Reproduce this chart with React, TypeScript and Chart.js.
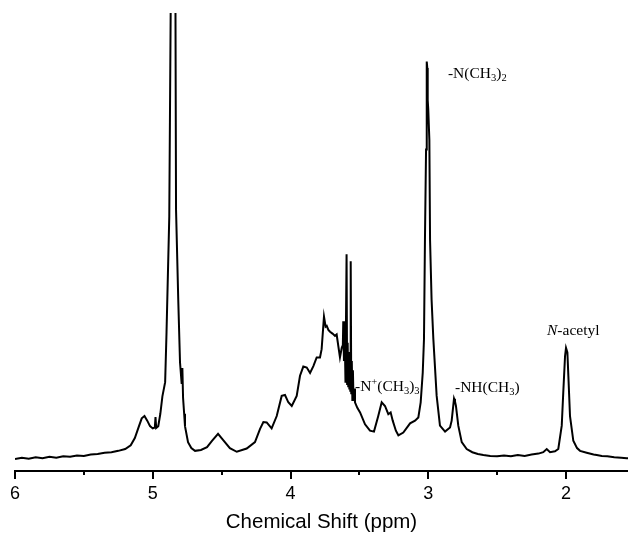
import React, { useEffect, useRef } from "react";
import { Chart, registerables } from "chart.js";

Chart.register(...registerables);

const SHIFT_PPM = [
  6.0, 5.95, 5.9, 5.85, 5.8, 5.75, 5.7, 5.65, 5.6, 5.55, 5.5, 5.45, 5.4, 5.35, 5.3, 5.25, 5.2,
  5.16, 5.13, 5.1, 5.08, 5.06, 5.04, 5.02, 5.0, 4.985, 4.98, 4.975, 4.96, 4.945, 4.93, 4.91, 4.9,
  4.88, 4.87, 4.862, 4.852, 4.843, 4.835, 4.831, 4.815, 4.802, 4.79, 4.785, 4.78, 4.772, 4.766,
  4.744, 4.72, 4.693, 4.65, 4.606, 4.57, 4.526, 4.49, 4.44, 4.39, 4.318, 4.258, 4.221, 4.197,
  4.173, 4.137, 4.1, 4.064, 4.04, 4.016, 3.991, 3.955, 3.931, 3.907, 3.882, 3.858, 3.834, 3.81,
  3.786, 3.774, 3.757, 3.745, 3.737, 3.725, 3.713, 3.695, 3.677, 3.665, 3.641, 3.628, 3.62,
  3.617, 3.612, 3.605, 3.601, 3.598, 3.593, 3.589, 3.585, 3.581, 3.577, 3.573, 3.57, 3.566, 3.563,
  3.559, 3.555, 3.551, 3.547, 3.543, 3.538, 3.532, 3.515, 3.495, 3.459, 3.423, 3.394, 3.363,
  3.338, 3.314, 3.29, 3.273, 3.258, 3.235, 3.217, 3.181, 3.132, 3.096, 3.072, 3.055, 3.04,
  3.031, 3.024, 3.016, 3.011, 3.007, 3.004, 3.0, 2.992, 2.987, 2.976, 2.963, 2.939, 2.915,
  2.878, 2.842, 2.83, 2.813, 2.806, 2.799, 2.782, 2.757, 2.721, 2.68, 2.64, 2.6, 2.55, 2.5,
  2.45, 2.4, 2.35, 2.3, 2.25, 2.2, 2.165, 2.14, 2.116, 2.08, 2.056, 2.031, 2.02, 2.007, 2.0,
  1.99, 1.983, 1.971, 1.947, 1.92, 1.898, 1.85, 1.8, 1.777, 1.74, 1.7, 1.65, 1.6, 1.559, 1.55,
];

// Relative intensity at each shift (0 = axis, 100 = top of the plot)
const INTENSITY = [
  2.6, 2.9, 2.7, 3.0, 2.8, 3.1, 2.9, 3.2, 3.1, 3.4, 3.3, 3.6, 3.7, 4.0, 4.1, 4.4, 4.8,
  5.6, 7.2, 9.8, 11.5, 12.0, 11.0, 9.8, 9.3, 9.5, 11.8, 9.4, 9.8, 12.5, 16.3, 19.4, 30.3,
  55.6, 100, 150, 190, 150, 100, 57.1, 37.5, 23.7, 19.0, 22.5, 16.0, 12.5, 9.8,
  6.3, 5.0, 4.4, 4.6, 5.2, 6.6, 8.1, 6.8, 5.0, 4.2, 4.9, 6.3, 9.2, 10.7,
  10.6, 9.3, 12.0, 16.4, 16.6, 15.0, 14.2, 16.4, 20.8, 22.8, 22.6, 21.4, 22.9, 24.8,
  24.8, 26.6, 33.7, 31.5, 31.7, 30.8, 30.4, 30.0, 29.5, 29.8, 24.8, 26.9, 27.5,
  32.7, 24.0, 27.0, 19.5, 30.0, 47.3, 19.0, 28.0, 18.5, 26.0, 18.0, 25.0, 17.5, 45.8,
  17.0, 24.0, 15.5, 22.0, 16.0, 18.0, 15.0, 13.8, 12.8, 10.2, 8.8, 8.6, 12.0,
  15.0, 14.2, 12.4, 12.8, 11.0, 8.8, 7.8, 8.4, 10.4, 11.0, 11.7, 15.0, 21.5,
  28.8, 50.5, 70.2, 89.4, 88.0, 81.0, 79.0, 72.3, 50.5, 37.5, 28.8, 16.4, 9.9,
  8.6, 9.5, 11.0, 15.8, 15.2, 14.2, 9.9, 6.3, 4.8, 4.1, 3.7, 3.5, 3.3, 3.2,
  3.4, 3.2, 3.5, 3.3, 3.6, 3.8, 4.1, 4.8, 4.1, 4.3, 4.8, 9.9, 17.1, 25.1, 26.9,
  25.9, 20.8, 12.0, 6.6, 5.0, 4.4, 4.0, 3.6, 3.5, 3.3, 3.2, 3.0, 2.9, 2.8, 2.8,
];

const MAJOR_TICKS = [6, 5, 4, 3, 2];
const MINOR_TICKS = [5.5, 4.5, 3.5, 2.5];
const X_TITLE = "Chemical Shift (ppm)";

type Part = [string, "n" | "sub" | "sup" | "i"];
// Peak assignments: text runs, and the anchor (shift, intensity) of the text's left baseline
const PEAK_TEXTS: Part[][] = [
  [["-N(CH", "n"], ["3", "sub"], [")", "n"], ["2", "sub"]],
  [["-N", "n"], ["+", "sup"], ["(CH", "n"], ["3", "sub"], [")", "n"], ["3", "sub"]],
  [["-NH(CH", "n"], ["3", "sub"], [")", "n"]],
  [["N", "i"], ["-acetyl", "n"]],
];
const PEAK_TEXT_PPM = [2.857, 3.532, 2.806, 2.138];
const PEAK_TEXT_LEVEL = [85.8, 17.4, 17.2, 29.8];

const overlay = {
  id: "overlay",
  afterDraw(chart: any) {
    const { ctx, chartArea, scales } = chart;
    const x = scales.x;
    const y = scales.y;
    ctx.save();
    ctx.strokeStyle = "#000";
    ctx.lineWidth = 2;
    const b = chartArea.bottom;
    const tick = (v: number, len: number) => {
      const px = Math.round(x.getPixelForValue(v));
      ctx.beginPath();
      ctx.moveTo(px, b);
      ctx.lineTo(px, b + len);
      ctx.stroke();
    };
    MAJOR_TICKS.forEach((v) => tick(v, 8));
    MINOR_TICKS.forEach((v) => tick(v, 4));

    ctx.fillStyle = "#000";
    ctx.textBaseline = "alphabetic";
    ctx.textAlign = "left";
    PEAK_TEXTS.forEach((parts, i) => {
      let px = x.getPixelForValue(PEAK_TEXT_PPM[i]);
      const py = y.getPixelForValue(PEAK_TEXT_LEVEL[i]);
      parts.forEach(([t, k]) => {
        const small = k === "sub" || k === "sup";
        const size = small ? 10.5 : 15.5;
        ctx.font = `${k === "i" ? "italic " : ""}${size}px "Liberation Serif"`;
        const dy = k === "sub" ? 3 : k === "sup" ? -6 : 0;
        ctx.fillText(t, px, py + dy);
        px += ctx.measureText(t).width;
      });
    });
    ctx.restore();
  },
};

export default function App() {
  const ref = useRef<HTMLCanvasElement | null>(null);
  useEffect(() => {
    if (!ref.current) return;
    const points = SHIFT_PPM.map((p, i) => ({ x: p, y: INTENSITY[i] }));
    const chart = new Chart(ref.current, {
      type: "line",
      data: {
        datasets: [
          {
            data: points,
            borderColor: "#000",
            borderWidth: 2,
            pointRadius: 0,
            tension: 0,
            fill: false,
          },
        ],
      },
      options: {
        animation: false,
        responsive: false,
        maintainAspectRatio: false,
        events: [],
        layout: { padding: { left: 15, right: 0, top: 13, bottom: 3 } },
        plugins: { legend: { display: false }, tooltip: { enabled: false } },
        scales: {
          x: {
            type: "linear",
            reverse: true,
            min: 1.55,
            max: 6,
            afterBuildTicks: (s: any) => {
              s.ticks = MAJOR_TICKS.map((v) => ({ value: v }));
            },
            afterFit: (s: any) => {
              s.height = 64;
              s.paddingLeft = 0;
              s.paddingRight = 0;
            },
            grid: { display: false, drawTicks: false },
            border: { display: true, color: "#000", width: 2 },
            ticks: {
              padding: 12,
              color: "#000",
              font: { family: "Liberation Sans", size: 18 },
              maxRotation: 0,
              callback: (v: any) => String(v),
            },
            title: {
              display: true,
              text: X_TITLE,
              color: "#000",
              font: { family: "Liberation Sans", size: 20.5 },
              padding: { top: 6, bottom: 0 },
            },
          },
          y: { display: false, min: 0, max: 100 },
        },
      },
      plugins: [overlay],
    });
    return () => chart.destroy();
  }, []);
  return (
    <div style={{ position: "fixed", left: 0, top: 0, width: 628, height: 538, background: "#fff" }}>
      <canvas ref={ref} width={628} height={538} style={{ display: "block" }} />
    </div>
  );
}
